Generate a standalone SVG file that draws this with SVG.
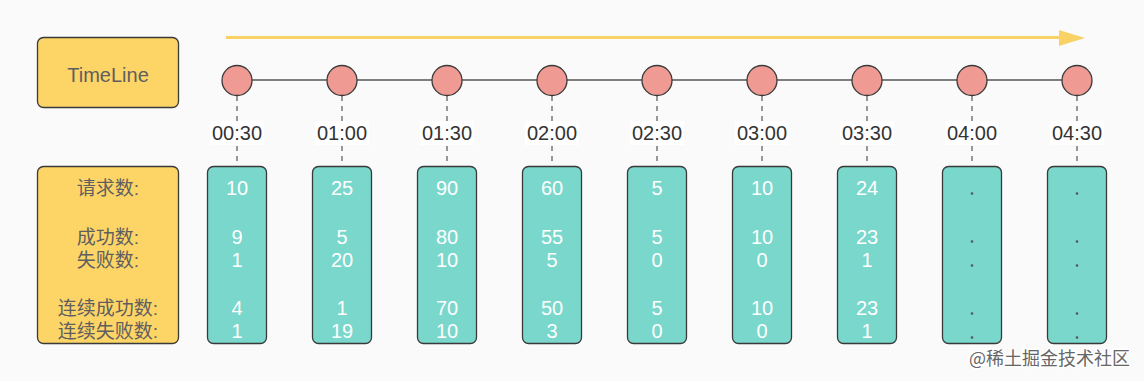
<svg xmlns="http://www.w3.org/2000/svg" width="1144" height="381" viewBox="0 0 1144 381">
<defs>
<style>
.lbl{font-family:"Liberation Sans","Noto Sans CJK SC",sans-serif;fill:#5f5f5f;font-size:19px;text-anchor:middle;dominant-baseline:central}
.tl{font-family:"Liberation Sans",sans-serif;fill:#5f5f5f;font-size:20px;text-anchor:middle;dominant-baseline:central}
.num{font-family:"Liberation Sans",sans-serif;fill:#ffffff;font-size:20px;text-anchor:middle;dominant-baseline:central}
.time{font-family:"Liberation Sans",sans-serif;fill:#333333;font-size:20px;text-anchor:middle;dominant-baseline:central}
.ybox{fill:#fdd466;stroke:#3a3a3a;stroke-width:1.3}
.tbox{fill:#79d7cb;stroke:#3a3a3a;stroke-width:1.3}
.dot{fill:#f09a94;stroke:#3a3a3a;stroke-width:1.3}
.dash{stroke:#777;stroke-width:1.5;stroke-dasharray:5 5;fill:none}
.tbg{fill:#ffffff}
.pt{fill:#555}
</style>
</defs>
<rect x="0" y="0" width="1144" height="381" fill="#fafafa"/>

<g id="connectors">
  <line x1="226" y1="37.5" x2="1062" y2="37.5" stroke="#f9d266" stroke-width="3"/>
  <polygon points="1059,30 1085,38 1059,46" fill="#f9d266"/>
  <line x1="237" y1="80" x2="1077" y2="80" stroke="#555" stroke-width="1.5"/>
  <g class="dash">
    <line x1="237" y1="96" x2="237" y2="166"/>
    <line x1="342" y1="96" x2="342" y2="166"/>
    <line x1="447" y1="96" x2="447" y2="166"/>
    <line x1="552" y1="96" x2="552" y2="166"/>
    <line x1="657" y1="96" x2="657" y2="166"/>
    <line x1="762" y1="96" x2="762" y2="166"/>
    <line x1="867" y1="96" x2="867" y2="166"/>
    <line x1="972" y1="96" x2="972" y2="166"/>
    <line x1="1077" y1="96" x2="1077" y2="166"/>
  </g>
</g>

<g id="timeline-label">
  <rect class="ybox" x="37.5" y="37.5" width="141" height="70" rx="6"/>
  <text class="tl" x="108" y="75">TimeLine</text>
</g>

<g id="metrics-label">
  <rect class="ybox" x="37.5" y="166.5" width="141" height="177" rx="6"/>
  <text class="lbl" x="108" y="188">请求数:</text>
  <text class="lbl" x="108" y="237">成功数:</text>
  <text class="lbl" x="108" y="260">失败数:</text>
  <text class="lbl" x="108" y="308">连续成功数:</text>
  <text class="lbl" x="108" y="331">连续失败数:</text>
</g>

<g id="t0030">
  <circle class="dot" cx="237" cy="80.5" r="15"/>
  <rect class="tbg" x="210" y="121" width="54" height="24"/>
  <text class="time" x="237" y="133">00:30</text>
  <rect class="tbox" x="207.5" y="166.5" width="59" height="177" rx="6"/>
  <text class="num" x="237" y="188">10</text><text class="num" x="237" y="237">9</text><text class="num" x="237" y="260">1</text><text class="num" x="237" y="308">4</text><text class="num" x="237" y="331">1</text>
</g>
<g id="t0100">
  <circle class="dot" cx="342" cy="80.5" r="15"/>
  <rect class="tbg" x="315" y="121" width="54" height="24"/>
  <text class="time" x="342" y="133">01:00</text>
  <rect class="tbox" x="312.5" y="166.5" width="59" height="177" rx="6"/>
  <text class="num" x="342" y="188">25</text><text class="num" x="342" y="237">5</text><text class="num" x="342" y="260">20</text><text class="num" x="342" y="308">1</text><text class="num" x="342" y="331">19</text>
</g>
<g id="t0130">
  <circle class="dot" cx="447" cy="80.5" r="15"/>
  <rect class="tbg" x="420" y="121" width="54" height="24"/>
  <text class="time" x="447" y="133">01:30</text>
  <rect class="tbox" x="417.5" y="166.5" width="59" height="177" rx="6"/>
  <text class="num" x="447" y="188">90</text><text class="num" x="447" y="237">80</text><text class="num" x="447" y="260">10</text><text class="num" x="447" y="308">70</text><text class="num" x="447" y="331">10</text>
</g>
<g id="t0200">
  <circle class="dot" cx="552" cy="80.5" r="15"/>
  <rect class="tbg" x="525" y="121" width="54" height="24"/>
  <text class="time" x="552" y="133">02:00</text>
  <rect class="tbox" x="522.5" y="166.5" width="59" height="177" rx="6"/>
  <text class="num" x="552" y="188">60</text><text class="num" x="552" y="237">55</text><text class="num" x="552" y="260">5</text><text class="num" x="552" y="308">50</text><text class="num" x="552" y="331">3</text>
</g>
<g id="t0230">
  <circle class="dot" cx="657" cy="80.5" r="15"/>
  <rect class="tbg" x="630" y="121" width="54" height="24"/>
  <text class="time" x="657" y="133">02:30</text>
  <rect class="tbox" x="627.5" y="166.5" width="59" height="177" rx="6"/>
  <text class="num" x="657" y="188">5</text><text class="num" x="657" y="237">5</text><text class="num" x="657" y="260">0</text><text class="num" x="657" y="308">5</text><text class="num" x="657" y="331">0</text>
</g>
<g id="t0300">
  <circle class="dot" cx="762" cy="80.5" r="15"/>
  <rect class="tbg" x="735" y="121" width="54" height="24"/>
  <text class="time" x="762" y="133">03:00</text>
  <rect class="tbox" x="732.5" y="166.5" width="59" height="177" rx="6"/>
  <text class="num" x="762" y="188">10</text><text class="num" x="762" y="237">10</text><text class="num" x="762" y="260">0</text><text class="num" x="762" y="308">10</text><text class="num" x="762" y="331">0</text>
</g>
<g id="t0330">
  <circle class="dot" cx="867" cy="80.5" r="15"/>
  <rect class="tbg" x="840" y="121" width="54" height="24"/>
  <text class="time" x="867" y="133">03:30</text>
  <rect class="tbox" x="837.5" y="166.5" width="59" height="177" rx="6"/>
  <text class="num" x="867" y="188">24</text><text class="num" x="867" y="237">23</text><text class="num" x="867" y="260">1</text><text class="num" x="867" y="308">23</text><text class="num" x="867" y="331">1</text>
</g>
<g id="t0400">
  <circle class="dot" cx="972" cy="80.5" r="15"/>
  <rect class="tbg" x="945" y="121" width="54" height="24"/>
  <text class="time" x="972" y="133">04:00</text>
  <rect class="tbox" x="942.5" y="166.5" width="59" height="177" rx="6"/>
  <circle class="pt" cx="972" cy="193.5" r="1.3"/><circle class="pt" cx="972" cy="241.5" r="1.3"/><circle class="pt" cx="972" cy="265.5" r="1.3"/><circle class="pt" cx="972" cy="313.5" r="1.3"/><circle class="pt" cx="972" cy="337.5" r="1.3"/>
</g>
<g id="t0430">
  <circle class="dot" cx="1077" cy="80.5" r="15"/>
  <rect class="tbg" x="1050" y="121" width="54" height="24"/>
  <text class="time" x="1077" y="133">04:30</text>
  <rect class="tbox" x="1047.5" y="166.5" width="59" height="177" rx="6"/>
  <circle class="pt" cx="1077" cy="193.5" r="1.3"/><circle class="pt" cx="1077" cy="241.5" r="1.3"/><circle class="pt" cx="1077" cy="265.5" r="1.3"/><circle class="pt" cx="1077" cy="313.5" r="1.3"/><circle class="pt" cx="1077" cy="337.5" r="1.3"/>
</g>

<text x="1130" y="357" font-family="'Noto Sans CJK SC',sans-serif" font-size="18" fill="#666" text-anchor="end" dominant-baseline="central" stroke="#ffffff" stroke-width="3" paint-order="stroke">@稀土掘金技术社区</text>
</svg>
